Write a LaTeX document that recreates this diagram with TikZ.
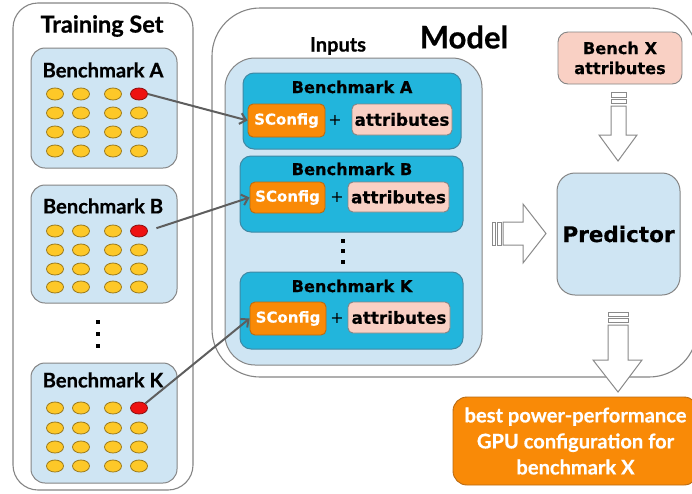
\documentclass[tikz,border=0pt]{standalone}
\usepackage{fontspec}
\setmainfont{Lato}[BoldFeatures={FakeBold=0.6}]
\newfontfamily\dvs{DejaVu Sans}[BoldFeatures={FakeBold=0.3}]
\usetikzlibrary{arrows.meta,shapes.geometric}
\definecolor{lblue}{HTML}{CFE5F3}
\definecolor{cyanb}{HTML}{22B5DC}
\definecolor{cyanedge}{HTML}{3F88A4}
\definecolor{orng}{HTML}{F98A07}
\definecolor{orngedge}{HTML}{B96A12}
\definecolor{pnk}{HTML}{F9D0C4}
\definecolor{edgegray}{HTML}{858585}
\definecolor{dotyel}{HTML}{FDC828}
\definecolor{dotyeledge}{HTML}{9C7B1C}
\definecolor{dotred}{HTML}{EE1111}
\definecolor{dotrededge}{HTML}{8E1010}
\definecolor{conn}{HTML}{5E5E5E}
\definecolor{arrgray}{HTML}{8A8A8A}
\tikzset{
  outerbox/.style={draw=edgegray, line width=1.1pt, fill=white, rounded corners=#1, inner sep=0pt},
  lbbox/.style={draw=edgegray, line width=1pt, fill=lblue, rounded corners=#1, inner sep=0pt},
  cybox/.style={draw=cyanedge, line width=1pt, fill=cyanb, rounded corners=11pt, inner sep=0pt},
  scbox/.style={draw=orngedge, line width=0.9pt, fill=orng, rounded corners=5pt, inner sep=0pt,
     text=white, font=\dvs\bfseries\fontsize{15}{17}\selectfont},
  atbox/.style={draw=edgegray, line width=0.9pt, fill=pnk, rounded corners=5pt, inner sep=0pt,
     font=\dvs\bfseries\fontsize{16.8}{18}\selectfont},
  plus/.style={font=\dvs\fontsize{16}{18}\selectfont, inner sep=0pt},
  lbtitle/.style={font=\bfseries\fontsize{20.2}{22}\selectfont, inner sep=0pt},
  intitle/.style={font=\dvs\bfseries\fontsize{16.2}{18}\selectfont, inner sep=0pt},
  ydot/.style={ellipse, draw=dotyeledge, line width=0.8pt, fill=dotyel, minimum width=17pt, minimum height=12pt, inner sep=0pt},
  rdot/.style={ellipse, draw=dotrededge, line width=0.8pt, fill=dotred, minimum width=17pt, minimum height=12pt, inner sep=0pt},
  vdot/.style={rectangle, fill=black, minimum size=4.5pt, inner sep=0pt},
  conarrow/.style={draw=conn, line width=2pt, -{Straight Barb[length=6pt, width=11pt, line width=2pt]}},
  blockarr/.style={draw=arrgray, line width=1pt, fill=white, line join=miter},
}
\begin{document}
\begin{tikzpicture}[x=1pt, y=-1pt]
\useasboundingbox (0,0) rectangle (692,493);

% ---------- Training set ----------
\node[outerbox=25pt, minimum width=180pt, minimum height=487pt] (train) at (103,246.5) {};
\node[font=\bfseries\fontsize{23.5}{26}\selectfont, inner sep=0pt] (trainT) at (102,26) {Training Set};

\node[lbbox=14pt, minimum width=146pt, minimum height=120pt] (lbA) at (104,108) {};
\node[lbbox=14pt, minimum width=146pt, minimum height=118pt] (lbB) at (104,244) {};
\node[lbbox=14pt, minimum width=146pt, minimum height=120pt] (lbK) at (104,423) {};
\node[lbtitle] (lbAt) at (103,70) {Benchmark A};
\node[lbtitle] (lbBt) at (103,206) {Benchmark B};
\node[lbtitle] (lbKt) at (103,380) {Benchmark K};

\foreach \nm/\ya/\yb/\yc/\yd in {A/94/113/132/151, B/231/250/269/287, K/408/428/447/466}{
  \foreach \r/\yy in {1/\ya,2/\yb,3/\yc,4/\yd}{
    \foreach \c/\xx in {1/55,2/81,3/113,4/139}{
      \pgfmathtruncatemacro{\isred}{(\r==1 && \c==4) ? 1 : 0}
      \ifnum\isred=1
        \node[rdot] (red\nm) at (\xx,\yy) {};
      \else
        \node[ydot] (d\nm-\r-\c) at (\xx,\yy) {};
      \fi
    }
  }
}
\node[vdot] (ld1) at (98,322) {};
\node[vdot] (ld2) at (98,334) {};
\node[vdot] (ld3) at (98,346) {};

% ---------- Model ----------
\node[outerbox=48pt, minimum width=485pt, minimum height=369pt] (model) at (454.5,192.5) {};
\node[font=\bfseries\fontsize{31}{34}\selectfont, inner sep=0pt] (modelT) at (464,37) {Model};
\node[font=\bfseries\fontsize{20}{22}\selectfont, inner sep=0pt] (inT) at (338,46) {Inputs};
\node[lbbox=30pt, minimum width=257pt, minimum height=307pt] (inputs) at (353.5,211.5) {};

\node[cybox, minimum width=218pt, minimum height=76pt] (inA) at (352,111) {};
\node[cybox, minimum width=223pt, minimum height=76pt] (inB) at (351.5,194) {};
\node[cybox, minimum width=223pt, minimum height=77pt] (inK) at (351.5,310.5) {};
\node[intitle] (inAt) at (352,87) {Benchmark A};
\node[intitle] (inBt) at (352,169) {Benchmark B};
\node[intitle] (inKt) at (352,286) {Benchmark K};

\node[scbox, minimum width=77pt, minimum height=33pt] (scA) at (286.5,120.5) {SConfig};
\node[plus] (plA) at (335,120) {+};
\node[atbox, minimum width=100pt, minimum height=31pt] (atA) at (402,119.5) {attributes};

\node[scbox, minimum width=75pt, minimum height=31pt] (scB) at (287.5,197.5) {SConfig};
\node[plus] (plB) at (337,197) {+};
\node[atbox, minimum width=101pt, minimum height=30pt] (atB) at (398.5,197) {attributes};

\node[scbox, minimum width=76pt, minimum height=33pt] (scK) at (288,318.5) {SConfig};
\node[plus] (plK) at (337,318) {+};
\node[atbox, minimum width=102pt, minimum height=31pt] (atK) at (399,317.5) {attributes};

\node[vdot, minimum size=4pt] (id1) at (343,241) {};
\node[vdot, minimum size=4pt] (id2) at (343,251) {};
\node[vdot, minimum size=4pt] (id3) at (343,262) {};

% ---------- Right column ----------
\node[draw=edgegray, line width=0.9pt, fill=pnk, rounded corners=10pt, minimum width=124pt, minimum height=52pt,
      inner sep=0pt, align=center, font=\dvs\bfseries\fontsize{16.2}{20}\selectfont] (benchX) at (620,58) {Bench X\\attributes};
\node[lbbox=18pt, minimum width=123pt, minimum height=122pt, font=\dvs\bfseries\fontsize{21.5}{24}\selectfont] (pred) at (618.5,234) {Predictor};
\node[draw=orngedge, line width=0.9pt, fill=orng, rounded corners=14pt, minimum width=245pt, minimum height=88pt,
      inner sep=0pt, align=center, text=white, font=\bfseries\fontsize{20.1}{26}\selectfont] (out) at (575.5,441)
      {best power-performance\\GPU configuration for\\benchmark X};

% ---------- block arrows ----------
% Bench X -> Predictor
\draw[blockarr] (611,92) rectangle (626,97);
\draw[blockarr] (611,99) rectangle (626,103);
\draw[blockarr] (611,106) -- (626,106) -- (626,135) -- (637,135) -- (618,161) -- (599,135) -- (611,135) -- cycle;
% Inputs -> Predictor
\draw[blockarr] (492,222) rectangle (495,245);
\draw[blockarr] (497,222) rectangle (501,245);
\draw[blockarr] (503,222) -- (523,222) -- (523,204) -- (546,233.5) -- (523,263) -- (523,245) -- (503,245) -- cycle;
% Predictor -> output
\draw[blockarr] (608,312) rectangle (628,316);
\draw[blockarr] (608,318) rectangle (628,322);
\draw[blockarr] (608,325) -- (628,325) -- (628,360) -- (642,360) -- (618,392) -- (593,360) -- (608,360) -- cycle;

% ---------- connectors ----------
\draw[conarrow] (redA.east) -- (scA.west);
\draw[conarrow, shorten <=9pt] (redB.east) -- (scB.west);
\draw[conarrow] (redK.north east) -- (scK.west);
\end{tikzpicture}
\end{document}
